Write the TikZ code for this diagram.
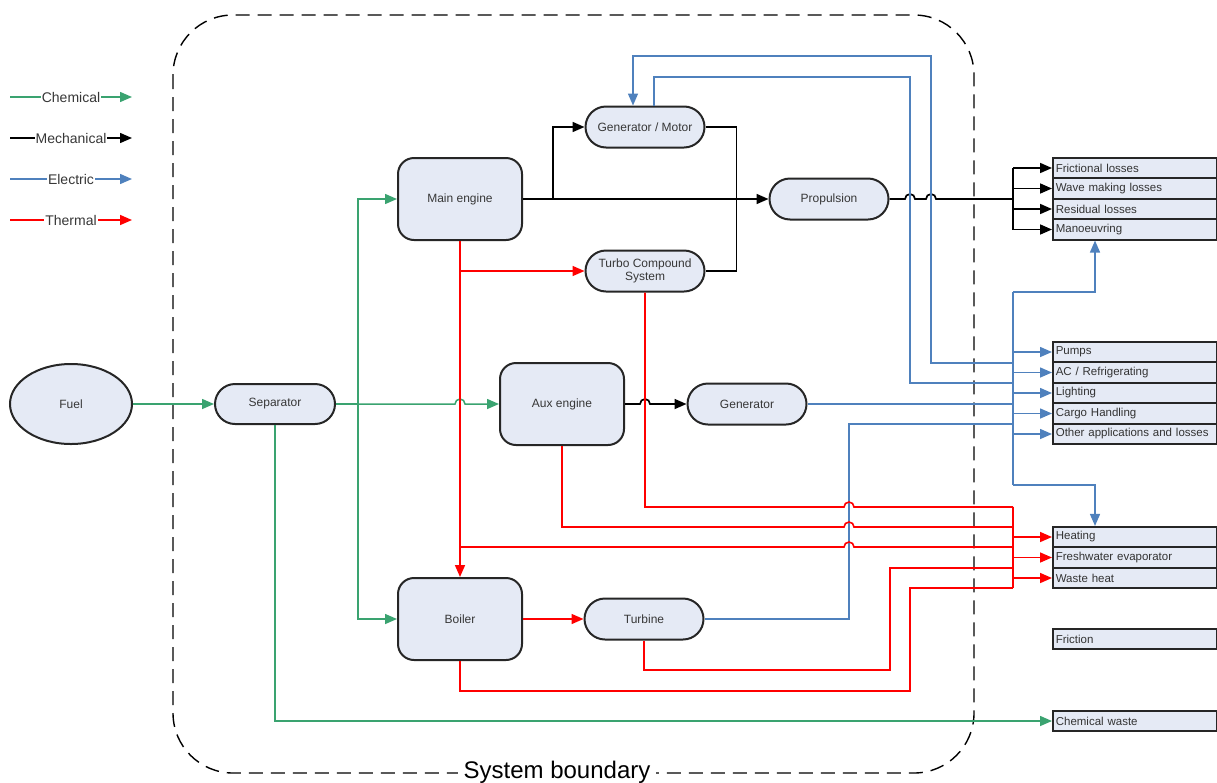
\documentclass[tikz,border=0pt]{standalone}
\usepackage{fontspec}
\setmainfont{Liberation Sans}
\usetikzlibrary{arrows.meta,shapes.geometric,shapes.misc}

\definecolor{chemgreen}{RGB}{58,163,112}
\definecolor{elecblue}{RGB}{79,129,189}
\definecolor{boxfill}{RGB}{229,234,245}
\definecolor{labelgray}{RGB}{55,55,55}

\tikzset{
  flowtip/.style={-{Triangle[length=12pt,width=10pt]}},
  chem/.style={draw=chemgreen,line width=1.5pt},
  mech/.style={draw=black,line width=1.7pt},
  elec/.style={draw=elecblue,line width=1.5pt},
  therm/.style={draw=red,line width=1.6pt},
  boxtext/.style={font=\fontsize{12}{13.5}\selectfont,text=labelgray},
  unit/.style={boxtext,draw=black!85,line width=2pt,fill=boxfill,
    rounded corners=16pt,minimum width=124pt,minimum height=82pt},
  stadium/.style={boxtext,draw=black!85,line width=2pt,fill=boxfill,
    rounded rectangle,minimum width=123pt,minimum height=41pt,inner sep=2pt},
  sink/.style={font=\fontsize{11.5}{13}\selectfont,text=black!80,
    draw=black!85,line width=1.6pt,fill=boxfill,anchor=west,
    minimum height=20.5pt,text width=158pt,inner xsep=3pt,inner ysep=0pt,
    align=left},
  legendtext/.style={fill=white,inner xsep=1pt,
    font=\fontsize{14}{16}\selectfont,text=labelgray}
}

\begin{document}
\begin{tikzpicture}[x=1pt,y=-1pt]
  \useasboundingbox (0,0) rectangle (1217,782);

  % legend
  \draw[chem,flowtip] (10,97) -- node[legendtext] (lgchem) {Chemical} (132,97);
  \draw[mech,line width=1.5pt,flowtip] (10,138) -- node[legendtext] (lgmech) {Mechanical} (132,138);
  \draw[elec,flowtip] (10,179) -- node[legendtext] (lgelec) {Electric} (132,179);
  \draw[therm,flowtip] (10,220) -- node[legendtext] (lgtherm) {Thermal} (132,220);

  % system boundary
  \draw[line width=1.4pt,dash pattern=on 14pt off 8pt,rounded corners=60pt]
    (173,15) rectangle (974,773);
  \node[fill=white,inner xsep=6pt,inner ysep=2pt,anchor=base,
    font=\fontsize{24}{28}\selectfont] (sysb) at (557,778) {System boundary};

  % plant
  \node[ellipse,draw=black!85,line width=2pt,fill=boxfill,boxtext,
    minimum width=122pt,minimum height=80pt] (fuel) at (71,404) {Fuel};
  \node[stadium,minimum width=124pt,minimum height=40pt] (sep) at (275,404) {Separator};
  \node[unit] (me) at (460,199) {Main engine};
  \node[unit] (aux) at (562,404) {Aux engine};
  \node[unit] (boil) at (460,619) {Boiler};
  \node[stadium] (genmot) at (645,127) {Generator / Motor};
  \node[stadium,align=center] (tcs) at (645,271) {Turbo Compound\\System};
  \node[stadium] (prop) at (829,199) {Propulsion};
  \node[stadium] (gen) at (747,404) {Generator};
  \node[stadium] (turb) at (644,619) {Turbine};

  % energy sinks
  \node[sink] (fric) at (1052,168) {Frictional losses};
  \node[sink] (wave) at (1052,188.5) {Wave making losses};
  \node[sink] (resid) at (1052,209) {Residual losses};
  \node[sink] (manoeuv) at (1052,229.5) {Manoeuvring};
  \node[sink] (pumps) at (1052,352) {Pumps};
  \node[sink] (ac) at (1052,372.5) {AC / Refrigerating};
  \node[sink] (light) at (1052,393) {Lighting};
  \node[sink] (cargo) at (1052,413.5) {Cargo Handling};
  \node[sink] (other) at (1052,434) {Other applications and losses};
  \node[sink] (heat) at (1052,537) {Heating};
  \node[sink] (fresh) at (1052,557.5) {Freshwater evaporator};
  \node[sink] (waste) at (1052,578) {Waste heat};
  \node[sink] (friction) at (1052,639) {Friction};
  \node[sink] (chemwaste) at (1052,721) {Chemical waste};

  % bends and buses
  \coordinate (chemv) at (358,404);
  \coordinate (mbus) at (1013,199);
  \coordinate (etop) at (1013,292);
  \coordinate (ebot) at (1013,485);
  \coordinate (gmin) at (931,56);
  \coordinate (gmout) at (910,77);
  \coordinate (tv) at (849,424);
  \coordinate (tcrow) at (1013,507);
  \coordinate (auxrow) at (1013,527);
  \coordinate (merow) at (1013,547);
  \coordinate (turbrow) at (1013,568);
  \coordinate (boilrow) at (1013,588);

  % chemical
  \draw[chem,flowtip] (fuel.east) -- (sep.west);
  \draw[chem] (sep.east) -- (chemv);
  \draw[chem,flowtip] (chemv) -- ([xshift=-5pt]me.south |- chemv)
    arc[start angle=180,end angle=0,radius=5pt] -- (aux.west);
  \draw[chem,flowtip] (chemv) |- (me.west);
  \draw[chem,flowtip] (chemv) |- (boil.west);
  \draw[chem,flowtip] (sep.south) |- (chemwaste.west);

  % mechanical
  \draw[mech,flowtip] (me.east) -- (prop.west);
  \draw[mech,flowtip] ([xshift=30pt]me.east) |- (genmot.west);
  \draw[mech] (genmot.east) -| ([xshift=31pt]tcs.east) -- (tcs.east);
  \draw[mech,flowtip] (aux.east) -- ([xshift=-5pt]tcs.south |- aux.east)
    arc[start angle=180,end angle=0,radius=5pt] -- (gen.west);
  \draw[mech] (prop.east) -- ([xshift=-5pt]gmout |- prop.east)
    arc[start angle=180,end angle=0,radius=5pt]
    -- ([xshift=-5pt]gmin |- prop.east)
    arc[start angle=180,end angle=0,radius=5pt] -- (mbus);
  \draw[mech] (mbus |- fric.west) -- (mbus |- manoeuv.west);
  \foreach \s in {fric,wave,resid,manoeuv}
    \draw[mech,flowtip] (mbus |- \s.west) -- (\s.west);

  % electric
  \draw[elec,flowtip] (etop |- 0,363) -| (gmin) -| ([xshift=-12pt]genmot.north);
  \draw[elec] ([xshift=9pt]genmot.north) |- (gmout) |- (etop |- 0,383);
  \draw[elec] (gen.east) -- (etop |- gen.east);
  \draw[elec] (turb.east) -| (tv) -- (etop |- tv);
  \draw[elec] (etop) -- (ebot);
  \draw[elec,flowtip] (etop) -| ([xshift=43pt]manoeuv.south west);
  \draw[elec,flowtip] (ebot) -| ([xshift=43pt]heat.north west);
  \foreach \s in {pumps,ac,light,cargo,other}
    \draw[elec,flowtip] (etop |- \s.west) -- (\s.west);

  % thermal
  \draw[therm,flowtip] (me.south) -- (boil.north);
  \draw[therm,flowtip] (me.south |- tcs.west) -- (tcs.west);
  \draw[therm,flowtip] (boil.east) -- (turb.west);
  \draw[therm] (tcs.south) |- ([xshift=-5pt]tv |- tcrow)
    arc[start angle=180,end angle=0,radius=5pt] -- (tcrow);
  \draw[therm] (aux.south) |- ([xshift=-5pt]tv |- auxrow)
    arc[start angle=180,end angle=0,radius=5pt] -- (auxrow);
  \draw[therm] (me.south |- merow) -- ([xshift=-5pt]tv |- merow)
    arc[start angle=180,end angle=0,radius=5pt] -- (merow);
  \draw[therm] (turb.south) |- (890,670) |- (turbrow);
  \draw[therm] (boil.south) |- (910,691) |- (boilrow);
  \draw[therm] (tcrow) -- (boilrow);
  \foreach \s in {heat,fresh,waste}
    \draw[therm,flowtip] (tcrow |- \s.west) -- (\s.west);
\end{tikzpicture}
\end{document}
